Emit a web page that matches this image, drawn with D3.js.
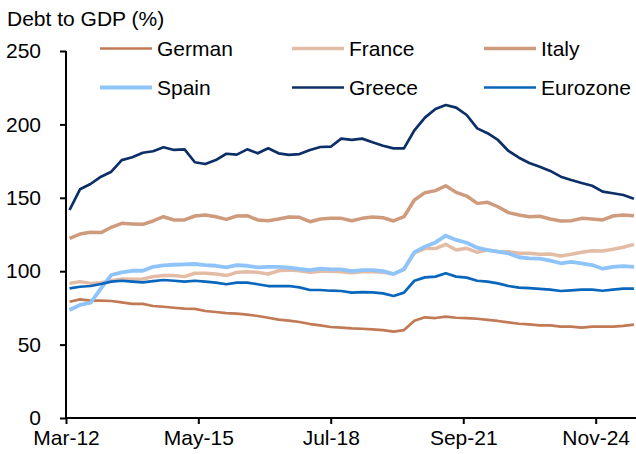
<!DOCTYPE html>
<html>
<head>
<meta charset="utf-8">
<script src="https://cdn.jsdelivr.net/npm/d3@7"></script>
<style>
  html, body { margin: 0; padding: 0; background: #fff; }
  svg { display: block; font-family: "Liberation Sans", Arial, sans-serif; }
</style>
</head>
<body>
<svg id="chart" width="636" height="454"></svg>
<script>
// ---- Data (quarterly, Mar-12 .. Dec-25) ----
const startDate = new Date(2012, 2, 1);
const endDate = new Date(2025, 11, 1);
const dates = d3.timeMonth.every(3).range(startDate, d3.timeMonth.offset(endDate, 1));

const german = [79.2, 80.8, 79.9, 79.9, 79.7, 78.8, 77.7, 77.7, 76.3, 75.8,
  75.1, 74.5, 74.3, 72.9, 72.2, 71.5, 71.1, 70.4, 69.5, 68.3,
  67.0, 66.3, 65.4, 64.0, 63.1, 62.0, 61.6, 61.1, 60.8, 60.4,
  59.9, 58.8, 59.9, 66.3, 68.6, 68.1, 69.0, 68.3, 68.1, 67.6,
  66.8, 66.1, 65.2, 64.2, 63.8, 63.1, 63.1, 62.2, 62.2, 61.5,
  62.2, 62.2, 62.2, 62.7, 63.6, 63.8];
const france = [91.7, 92.9, 91.7, 92.2, 93.5, 94.7, 94.5, 94.7, 96.3, 97.0,
  97.0, 96.3, 98.6, 98.6, 98.1, 97.0, 99.2, 99.7, 99.2, 98.1,
  100.3, 100.8, 100.3, 99.2, 99.9, 99.9, 99.7, 99.0, 99.7, 99.7,
  99.2, 98.1, 101.5, 112.5, 115.4, 115.4, 118.3, 114.4, 115.6, 112.9,
  114.4, 113.3, 113.3, 112.2, 112.2, 111.5, 111.7, 110.4, 111.5, 112.9,
  114.0, 113.8, 114.9, 116.3, 118.3, 116.3];
const italy = [122.4, 125.3, 126.5, 126.3, 129.9, 132.6, 132.2, 131.9, 134.2, 137.1,
  134.9, 134.9, 137.6, 138.3, 137.1, 135.3, 137.6, 137.8, 134.9, 134.4,
  135.6, 136.9, 136.7, 133.7, 135.6, 136.0, 136.0, 134.4, 136.0, 136.9,
  136.4, 134.2, 137.1, 148.5, 153.5, 154.9, 158.2, 153.7, 151.2, 146.2,
  146.9, 143.9, 139.9, 138.3, 137.1, 137.4, 135.6, 134.2, 134.4, 136.0,
  135.6, 134.9, 137.6, 138.3, 137.8, 137.4];
const spain = [73.6, 77.0, 78.5, 88.3, 97.4, 99.2, 100.3, 100.3, 103.0, 104.0,
  104.4, 104.7, 104.9, 104.2, 103.7, 102.6, 104.2, 103.7, 102.6, 103.0,
  103.0, 102.4, 101.5, 100.8, 101.7, 101.3, 101.3, 100.1, 100.8, 100.8,
  100.1, 98.1, 101.3, 113.0, 116.7, 119.6, 124.2, 121.3, 119.4, 116.0,
  114.4, 113.3, 112.2, 109.5, 108.8, 108.5, 107.2, 105.4, 106.3, 105.4,
  104.2, 101.7, 103.0, 103.5, 103.0, 100.8];
const greece = [141.7, 155.8, 159.4, 164.4, 167.8, 175.7, 177.6, 180.7, 181.7, 184.4,
  182.6, 183.0, 174.2, 173.0, 175.7, 180.0, 179.4, 183.0, 180.3, 183.7,
  180.3, 179.2, 179.8, 182.6, 184.6, 184.8, 190.3, 189.4, 190.3, 187.8,
  185.5, 183.7, 183.7, 196.0, 204.6, 210.5, 213.2, 211.4, 206.4, 197.3,
  194.0, 189.4, 181.9, 177.3, 173.7, 171.2, 168.3, 164.4, 162.1, 160.1,
  158.2, 154.2, 153.1, 151.9, 149.4, 144.5];
const eurozone = [88.3, 89.4, 89.9, 91.3, 92.9, 93.5, 92.9, 92.4, 93.3, 94.0,
  93.5, 92.9, 93.5, 92.9, 92.2, 91.1, 92.2, 92.2, 91.1, 89.9,
  89.9, 89.9, 89.0, 87.2, 87.2, 86.7, 86.5, 85.4, 85.8, 85.6,
  84.9, 83.1, 85.4, 93.5, 95.8, 96.3, 98.6, 96.3, 95.6, 93.5,
  92.9, 91.7, 89.9, 88.8, 88.5, 87.9, 87.4, 86.5, 87.0, 87.4,
  87.4, 86.7, 87.4, 88.1, 88.1, 87.9];

const seriesNames = ["German", "France", "Italy", "Spain", "Greece", "Eurozone"];
const seriesValues = [german, france, italy, spain, greece, eurozone];
const seriesColors = ["#C17A55", "#E3BCA5", "#CE9B7D", "#8FC4FA", "#0B2F66", "#0866BD"];
const seriesWidths = [2.7, 3.5, 3.5, 3.8, 2.7, 2.7];

const yTicks = [0, 50, 100, 150, 200, 250];
const xTickDates = [new Date(2012, 2, 1), new Date(2015, 4, 1), new Date(2018, 6, 1),
                    new Date(2021, 8, 1), new Date(2024, 10, 1)];
const yTitle = "Debt to GDP (%)";

// ---- Drawing ----
const svg = d3.select("#chart");
const FS = 21;
const FONT = '"Liberation Sans", Arial, sans-serif';
const x0 = 66, pxPerMonth = 3.4842;
const x = d3.scaleTime()
  .domain([startDate, endDate])
  .range([x0, x0 + 165 * pxPerMonth]);
const y = d3.scaleLinear().domain([0, 250]).range([418, 51]);

// title
svg.append("text").attr("x", 7).attr("y", 26)
  .attr("font-size", FS).attr("fill", "#000").text(yTitle);

// y axis
const yAxis = svg.append("g").attr("transform", `translate(${x0},0)`)
  .call(d3.axisLeft(y).tickValues(yTicks).tickSize(6).tickPadding(19).tickFormat(d3.format("d")));
yAxis.select(".domain").attr("stroke", "#000").attr("stroke-width", 2).attr("d", `M0,${y(250)}V${y(0)}`);
yAxis.selectAll(".tick line").attr("stroke", "#000").attr("stroke-width", 2);
yAxis.selectAll(".tick text").attr("font-size", FS).attr("fill", "#000").attr("font-family", FONT);

// x axis
const fmt = d3.timeFormat("%b-%y");
const xAxis = svg.append("g").attr("transform", `translate(0,${y(0)})`)
  .call(d3.axisBottom(x).tickValues(xTickDates).tickSize(6).tickPadding(6).tickFormat(fmt));
xAxis.select(".domain").attr("stroke", "#000").attr("stroke-width", 2).attr("d", `M${x0},0H636`);
xAxis.selectAll(".tick line").attr("stroke", "#000").attr("stroke-width", 2);
xAxis.selectAll(".tick text").attr("font-size", FS).attr("fill", "#000").attr("font-family", FONT);

// lines
const line = d3.line().x((d, i) => x(dates[i])).y(d => y(d));
seriesValues.forEach((vals, k) => {
  svg.append("path")
    .datum(vals)
    .attr("fill", "none")
    .attr("stroke", seriesColors[k])
    .attr("stroke-width", seriesWidths[k])
    .attr("stroke-linejoin", "round")
    .attr("d", line);
});

// legend
const legX = [100, 292, 484];
const legY = [48.5, 87.5];
seriesNames.forEach((name, k) => {
  const col = k % 3, row = Math.floor(k / 3);
  const g = svg.append("g").attr("transform", `translate(${legX[col]},${legY[row]})`);
  g.append("line").attr("x1", 0).attr("x2", 52).attr("y1", 0).attr("y2", 0)
    .attr("stroke", seriesColors[k]).attr("stroke-width", seriesWidths[k]);
  g.append("text").attr("x", 57).attr("y", 0).attr("dy", "0.35em")
    .attr("font-size", FS).attr("fill", "#000").text(name);
});
</script>
</body>
</html>
